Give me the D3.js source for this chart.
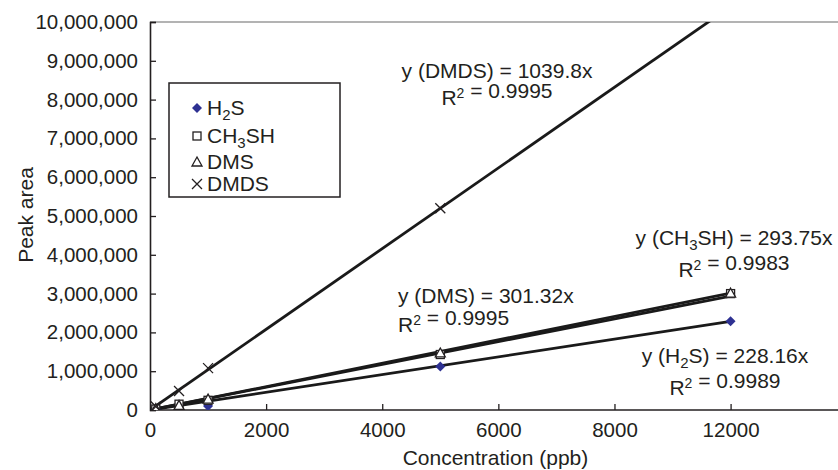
<!DOCTYPE html>
<html>
<head>
<meta charset="utf-8">
<script src="https://cdn.jsdelivr.net/npm/d3@7"></script>
<style>
  body { margin: 0; background: #fff; }
  text { font-family: "Liberation Sans", Arial, sans-serif; fill: #231f20; }
</style>
</head>
<body>
<script>
'use strict';

// data
const concentrations = [100, 500, 1000, 5000, 10000];
const seriesNames = ['H2S', 'CH3SH', 'DMS', 'DMDS'];
const h2sArea = [20000, 40000, 100000, 1120000, 2290000];
const ch3shArea = [25000, 150000, 250000, 1430000, 3000000];
const dmsArea = [35000, 120000, 280000, 1470000, 3010000];
const dmdsArea = [90000, 490000, 1080000, 5200000, null];
const slopes = [228.16, 293.75, 301.32, 1039.8];
const rSquared = ['0.9989', '0.9983', '0.9995', '0.9995'];

const yTicks = [0, 1e6, 2e6, 3e6, 4e6, 5e6, 6e6, 7e6, 8e6, 9e6, 1e7];
const xTicks = [0, 2000, 4000, 6000, 8000, 10000];
// the original figure labels the last tick 12000
const xTickLabels = ['0', '2000', '4000', '6000', '8000', '12000'];

const areas = [h2sArea, ch3shArea, dmsArea, dmdsArea];

// 画布
const width = 838, height = 470;
const margin = {top: 22, right: 0, bottom: 60, left: 150};

const svg = d3.select('body').append('svg')
  .attr('width', width)
  .attr('height', height);

const x = d3.scaleLinear()
  .domain([0, 11850])
  .range([margin.left, width - margin.right]);

const y = d3.scaleLinear()
  .domain([0, 1e7])
  .range([height - margin.bottom, margin.top]);

svg.append('defs').append('clipPath')
  .attr('id', 'plot')
  .append('rect')
  .attr('x', margin.left)
  .attr('y', margin.top)
  .attr('width', width - margin.left)
  .attr('height', height - margin.bottom - margin.top);

// 上边框
svg.append('line')
  .attr('x1', margin.left).attr('x2', width)
  .attr('y1', y(1e7)).attr('y2', y(1e7))
  .attr('stroke', '#9a9a9a').attr('stroke-width', 1.5);

// 坐标轴
const xAxis = d3.axisBottom(x)
  .tickValues(xTicks)
  .tickSize(-6)
  .tickPadding(12)
  .tickFormat((d, i) => xTickLabels[i]);

const yAxis = d3.axisLeft(y)
  .tickValues(yTicks)
  .tickSize(-6)
  .tickPadding(12)
  .tickFormat(d3.format(','));

const gx = svg.append('g')
  .attr('transform', `translate(0,${y(0)})`)
  .call(xAxis);
gx.select('.domain').attr('d', `M${margin.left},0H${width}`);

const gy = svg.append('g')
  .attr('transform', `translate(${margin.left},0)`)
  .call(yAxis);

[gx, gy].forEach(g => {
  g.select('.domain').attr('stroke', '#231f20').attr('stroke-width', 1.6);
  g.selectAll('.tick line').attr('stroke', '#231f20').attr('stroke-width', 1.3);
  g.selectAll('text')
    .attr('font-size', 20.5)
    .attr('font-family', '"Liberation Sans", Arial, sans-serif')
    .attr('fill', '#231f20');
});
gx.selectAll('.tick').filter(d => d === 0).select('line').remove();

svg.append('text')
  .attr('x', x(5950))
  .attr('y', 465)
  .attr('text-anchor', 'middle')
  .attr('font-size', 21)
  .text('Concentration (ppb)');

svg.append('text')
  .attr('transform', 'translate(33,215) rotate(-90)')
  .attr('text-anchor', 'middle')
  .attr('font-size', 21)
  .text('Peak area');

// 趋势线
const plot = svg.append('g').attr('clip-path', 'url(#plot)');

plot.selectAll('line.fit')
  .data(slopes)
  .enter()
  .append('line')
  .attr('class', 'fit')
  .attr('x1', x(0)).attr('y1', y(0))
  .attr('x2', x(d3.max(concentrations)))
  .attr('y2', d => y(d * d3.max(concentrations)))
  .attr('stroke', '#1a1a1a')
  .attr('stroke-width', 2.8);

// 标记
function drawMarker(g, i) {
  if (i === 0) {
    g.append('path').attr('d', 'M0,-5L5,0L0,5L-5,0Z').attr('fill', '#2e3192');
  } else if (i === 1) {
    g.append('rect').attr('x', -4).attr('y', -4).attr('width', 8).attr('height', 8)
      .attr('fill', '#fff').attr('stroke', '#231f20').attr('stroke-width', 1.3);
  } else if (i === 2) {
    g.append('path').attr('d', 'M0,-5L5,4L-5,4Z')
      .attr('fill', '#fff').attr('stroke', '#231f20').attr('stroke-width', 1.3);
  } else {
    g.append('path').attr('d', 'M-5,-5L5,5M-5,5L5,-5')
      .attr('stroke', '#231f20').attr('stroke-width', 1.3);
  }
}

areas.forEach((vals, i) => {
  plot.selectAll(null)
    .data(concentrations.map((c, j) => [c, vals[j]]).filter(d => d[1] != null))
    .enter()
    .append('g')
    .attr('transform', d => `translate(${x(d[0])},${y(d[1])})`)
    .each(function () { drawMarker(d3.select(this), i); });
});

// 下标/上标文字
function writeRich(textSel, str, mode) {
  const parts = str.split(/(\d)/).filter(p => p !== '');
  const shift = mode === 'sub' ? 5 : -7;
  let shifted = false;
  parts.forEach(p => {
    const isDigit = /^\d$/.test(p);
    const t = textSel.append('tspan').text(p);
    if (isDigit) {
      t.attr('font-size', mode === 'sub' ? 15 : 14).attr('dy', shift);
      shifted = true;
    } else if (shifted) {
      t.attr('dy', -shift);
      shifted = false;
    }
  });
}

// 图例
const legendRows = [108, 136, 162, 184];
const legend = svg.append('g');
legend.append('rect')
  .attr('x', 169).attr('y', 83)
  .attr('width', 171).attr('height', 114)
  .attr('fill', '#fff')
  .attr('stroke', '#231f20')
  .attr('stroke-width', 1.5);

seriesNames.forEach((name, i) => {
  const g = legend.append('g').attr('transform', `translate(197,${legendRows[i]})`);
  drawMarker(g, i);
  const t = legend.append('text')
    .attr('x', 207)
    .attr('y', legendRows[i] + 7)
    .attr('font-size', 21);
  writeRich(t, name, 'sub');
});

// 方程标注
const labelPos = [
  {x: 725, y: 363, y2: 395, anchor: 'middle'},
  {x: 734, y: 245, y2: 277, anchor: 'middle'},
  {x: 398, y: 303, y2: 332, anchor: 'start'},
  {x: 497, y: 78, y2: 105, anchor: 'middle'}
];

seriesNames.forEach((name, i) => {
  const p = labelPos[i];
  const t1 = svg.append('text')
    .attr('x', p.x).attr('y', p.y)
    .attr('text-anchor', p.anchor)
    .attr('font-size', 21);
  t1.append('tspan').text('y (');
  writeRich(t1, name, 'sub');
  t1.append('tspan').text(`) = ${slopes[i]}x`);

  const t2 = svg.append('text')
    .attr('x', p.x).attr('y', p.y2)
    .attr('text-anchor', p.anchor)
    .attr('font-size', 21);
  writeRich(t2, 'R2', 'sup');
  t2.append('tspan').text(` = ${rSquared[i]}`);
});
</script>
</body>
</html>
